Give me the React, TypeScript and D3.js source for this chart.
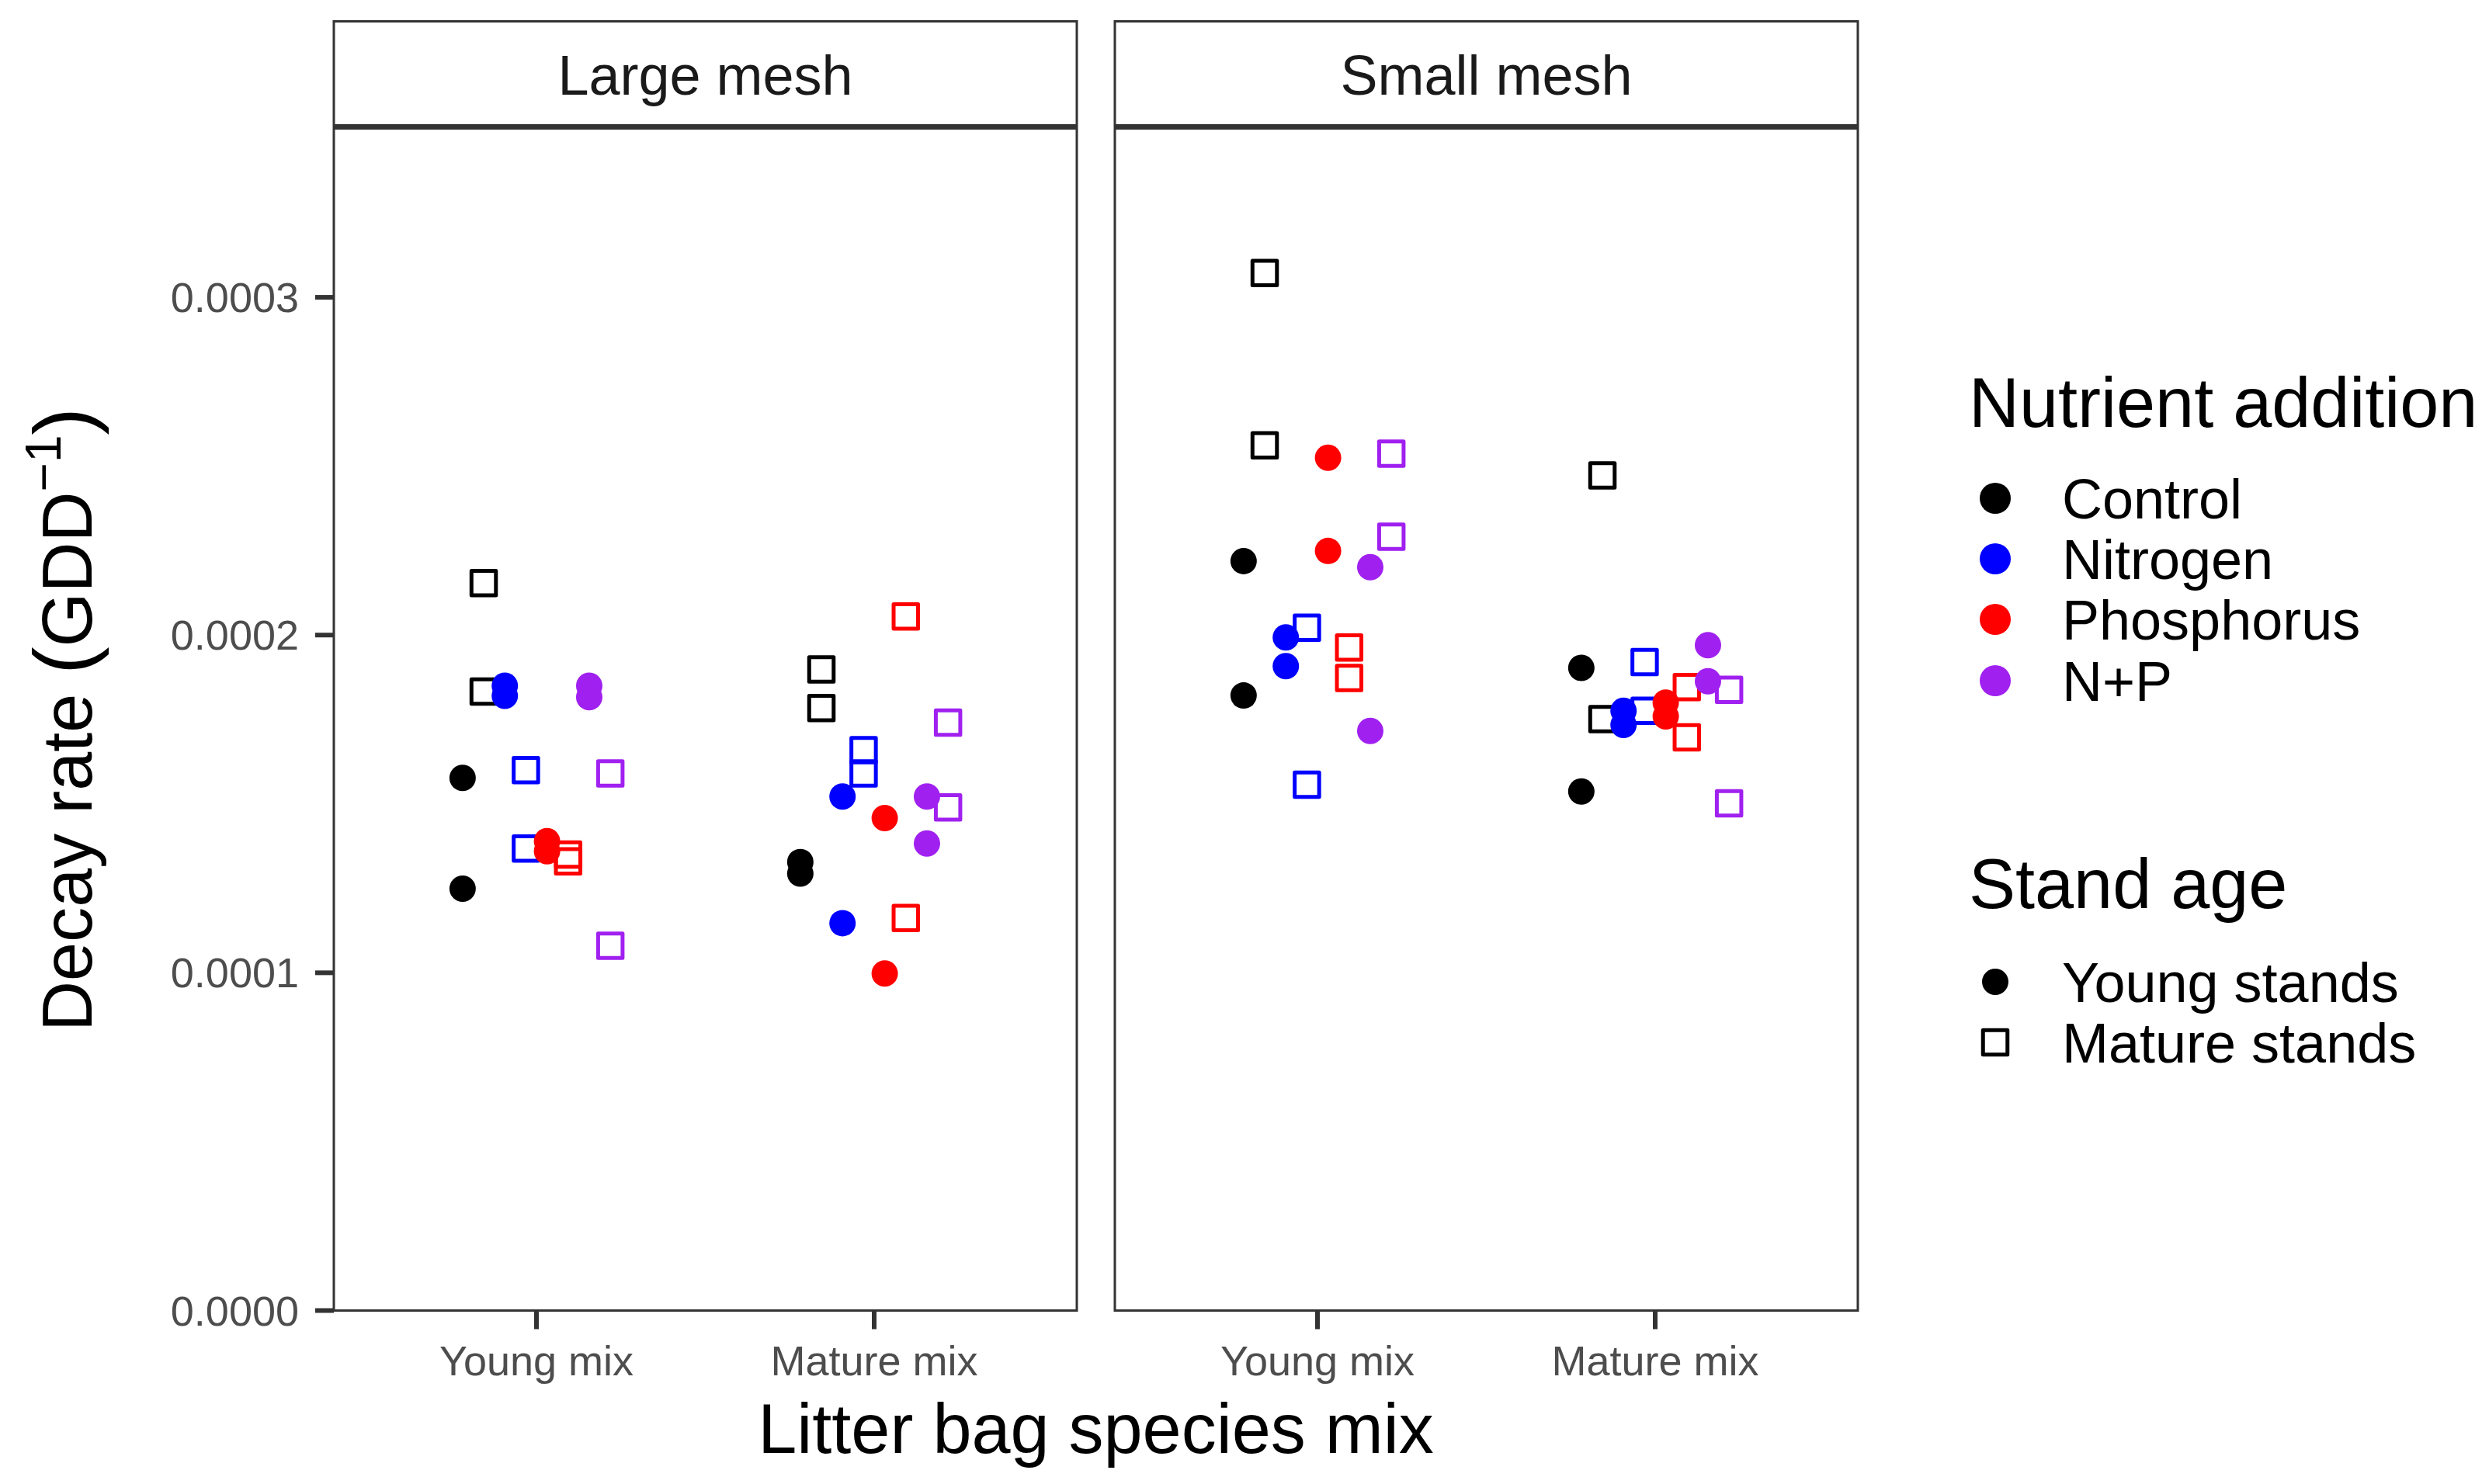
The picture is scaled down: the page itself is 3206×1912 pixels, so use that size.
import React from "react";
import * as d3 from "d3";

const meshes = ["Large mesh", "Small mesh"];
const mixes = ["Young mix", "Mature mix"];
const nutrients = ["Control", "Nitrogen", "Phosphorus", "N+P"];
const stands = ["Young stands", "Mature stands"];
const nutrientColors = ["#000000", "#0000FF", "#FF0000", "#A020F0"];
const yTicks = [0, 0.0001, 0.0002, 0.0003];

// rows go Control/Young, Control/Mature, Nitrogen/Young, Nitrogen/Mature, ... two bags per row
const largeYoungMix = [
  [0.0001577, 0.0001249],
  [0.0002154, 0.0001833],
  [0.000185, 0.000182],
  [0.00016, 0.0001368],
  [0.000139, 0.000136],
  [0.000135, 0.000133],
  [0.000185, 0.0001816],
  [0.000159, 0.000108],
];
const largeMatureMix = [
  [0.0001328, 0.0001294],
  [0.0001898, 0.0001784],
  [0.0001522, 0.0001147],
  [0.0001659, 0.000159],
  [0.0001458, 0.0000998],
  [0.0002055, 0.0001162],
  [0.0001522, 0.0001383],
  [0.0001741, 0.000149],
];
const smallYoungMix = [
  [0.0002219, 0.0001821],
  [0.0003072, 0.0002562],
  [0.0001993, 0.0001908],
  [0.0002022, 0.0001557],
  [0.0002525, 0.0002249],
  [0.0001963, 0.0001873],
  [0.0002201, 0.0001716],
  [0.0002537, 0.0002291],
];
const smallMatureMix = [
  [0.0001903, 0.0001537],
  [0.0002473, 0.0001751],
  [0.0001776, 0.0001734],
  [0.000192, 0.0001776],
  [0.00018, 0.0001759],
  [0.0001846, 0.0001697],
  [0.000197, 0.0001863],
  [0.0001838, 0.0001502],
];

const panelData = [
  [largeYoungMix, largeMatureMix],
  [smallYoungMix, smallMatureMix],
];

const W = 3206;
const H = 1912;
const FONT = "'Liberation Sans', Arial, Helvetica, sans-serif";
const panelX = [
  [430, 1387],
  [1436, 2393],
];
const stripTop = 27.5;
const stripBottom = 162.5;
const plotTop = 165.5;
const plotBottom = 1688.5;
const lineCol = "#333333";
const sq = 31.5;

const groupKeys = nutrients.flatMap((n) => stands.map((s) => `${n}|${s}`));

const y = d3.scaleLinear().domain([0, 0.00035]).range([plotBottom, plotTop]);
const fmt = d3.format(".4f");

function Panel({ p }: { p: number }) {
  const [x0, x1] = panelX[p];
  const x = d3.scalePoint<string>().domain(mixes).range([x0, x1]).padding(0.6);
  const step = x.step();
  const dodge = d3
    .scaleBand<string>()
    .domain(groupKeys)
    .range([-step * 0.25, step * 0.25]);

  const pts: { cx: number; cy: number; color: string; stand: number }[] = [];
  mixes.forEach((mix, mi) => {
    panelData[p][mi].forEach((vals, g) => {
      const key = groupKeys[g];
      const cx = (x(mix) as number) + (dodge(key) as number) + dodge.bandwidth() / 2;
      vals.forEach((v) => {
        pts.push({ cx, cy: y(v), color: nutrientColors[Math.floor(g / 2)], stand: g % 2 });
      });
    });
  });

  return (
    <g>
      <rect x={x0} y={stripTop} width={x1 - x0} height={stripBottom - stripTop} fill="#fff" stroke={lineCol} strokeWidth={3} />
      <line x1={x0} x2={x1} y1={163} y2={163} stroke={lineCol} strokeWidth={6} />
      <text x={(x0 + x1) / 2} y={122} textAnchor="middle" fontSize={72} fill="#1a1a1a" fontFamily={FONT}>
        {meshes[p]}
      </text>
      <rect x={x0} y={plotTop} width={x1 - x0} height={plotBottom - plotTop} fill="#fff" />
      {pts.map((d, i) =>
        d.stand === 0 ? (
          <circle key={i} cx={d.cx} cy={d.cy} r={17} fill={d.color} />
        ) : (
          <rect
            key={i}
            x={d.cx - sq / 2}
            y={d.cy - sq / 2}
            width={sq}
            height={sq}
            fill="none"
            stroke={d.color}
            strokeWidth={5}
            strokeLinejoin="round"
          />
        )
      )}
      <rect x={x0} y={plotTop} width={x1 - x0} height={plotBottom - plotTop} fill="none" stroke={lineCol} strokeWidth={3} />
      {mixes.map((m) => (
        <g key={m}>
          <line x1={x(m)} x2={x(m)} y1={plotBottom} y2={plotBottom + 24} stroke={lineCol} strokeWidth={6} />
          <text x={x(m)} y={1772} textAnchor="middle" fontSize={54} fill="#4D4D4D" fontFamily={FONT}>
            {m}
          </text>
        </g>
      ))}
    </g>
  );
}

export default function App() {
  const x0 = panelX[0][0];
  const nutY = [642, 720, 798, 877];
  const standY = [1265, 1343];
  return (
    <svg width={W} height={H} viewBox={`0 0 ${W} ${H}`} style={{ position: "absolute", left: 0, top: 0, background: "#fff" }}>
      <rect width={W} height={H} fill="#fff" />
      {[0, 1].map((p) => (
        <Panel key={p} p={p} />
      ))}
      {yTicks.map((t) => (
        <g key={t}>
          <line x1={x0 - 24} x2={x0} y1={y(t)} y2={y(t)} stroke={lineCol} strokeWidth={6} />
          <text x={385} y={y(t) + 19} textAnchor="end" fontSize={54} fill="#4D4D4D" fontFamily={FONT}>
            {fmt(t)}
          </text>
        </g>
      ))}
      <text
        transform={`translate(118, ${(plotTop + plotBottom) / 2}) rotate(-90)`}
        textAnchor="middle"
        fontSize={90}
        fill="#000"
        fontFamily={FONT}
      >
        Decay rate <tspan fontSize={106}>(</tspan>GDD
        <tspan fontSize={64} dy={-40}>−1</tspan>
        <tspan fontSize={106} dy={40}>)</tspan>
      </text>
      <text x={(panelX[0][0] + panelX[1][1]) / 2} y={1872} textAnchor="middle" fontSize={90} fill="#000" fontFamily={FONT}>
        Litter bag species mix
      </text>

      <text x={2536} y={550} fontSize={90} fill="#000" fontFamily={FONT}>
        Nutrient addition
      </text>
      {nutrients.map((n, i) => (
        <g key={n}>
          <circle cx={2570} cy={nutY[i]} r={20} fill={nutrientColors[i]} />
          <text x={2656} y={nutY[i] + 26} fontSize={72} fill="#000" fontFamily={FONT}>
            {n}
          </text>
        </g>
      ))}
      <text x={2536} y={1170} fontSize={90} fill="#000" fontFamily={FONT}>
        Stand age
      </text>
      {stands.map((s, i) => (
        <g key={s}>
          {i === 0 ? (
            <circle cx={2570} cy={standY[i]} r={17} fill="#000" />
          ) : (
            <rect
              x={2570 - sq / 2}
              y={standY[i] - sq / 2}
              width={sq}
              height={sq}
              fill="none"
              stroke="#000"
              strokeWidth={5}
              strokeLinejoin="round"
            />
          )}
          <text x={2656} y={standY[i] + 26} fontSize={72} fill="#000" fontFamily={FONT}>
            {s}
          </text>
        </g>
      ))}
    </svg>
  );
}
